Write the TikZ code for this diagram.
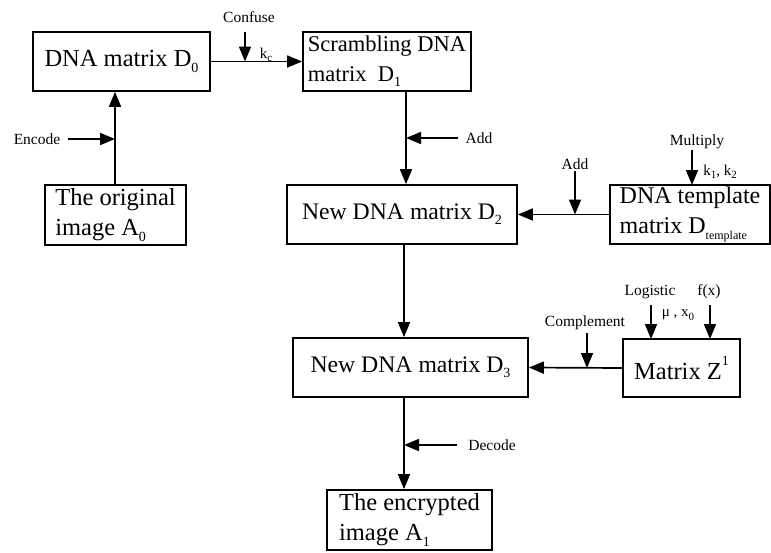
\documentclass[tikz,border=0pt]{standalone}
\usepackage{fontspec}
\setmainfont{Liberation Serif}
\usetikzlibrary{arrows.meta}
\newcommand\sbs[2][14]{\raisebox{-0.22em}{\fontsize{#1}{#1}\selectfont #2}}
\newcommand\sps[2][14]{\raisebox{0.55em}{\fontsize{#1}{#1}\selectfont #2}}
\begin{document}
\begin{tikzpicture}[x=1pt,y=-1pt,
  box/.style={draw, line width=1.7pt, inner xsep=7pt, inner ysep=0pt, align=left,
    font=\fontsize{24.5}{30}\selectfont},
  lbl/.style={inner sep=0pt, font=\fontsize{15.5}{16}\selectfont},
  sm/.style={inner sep=0pt, font=\fontsize{15}{15}\selectfont},
  conn/.style={line width=1.7pt, -{Triangle[length=15pt,width=12pt]}},
]
\useasboundingbox (0,0) rectangle (771,552);

% boxes
\node[box, minimum width=177pt, minimum height=59pt] (d0) at (121.5,61.5) {DNA matrix D\sbs{0}};
\node[box, minimum width=168pt, minimum height=59pt, font=\fontsize{22.5}{30}\selectfont, inner xsep=4pt] (d1) at (387,61.5) {Scrambling DNA\\matrix\ \ D\sbs{1}};
\node[box, minimum width=141pt, minimum height=60pt, inner xsep=4pt] (orig) at (115.5,215) {The original\\image A\sbs{0}};
\node[box, minimum width=230pt, minimum height=59pt, font=\fontsize{23.7}{30}\selectfont] (d2) at (402,214.5) {New DNA matrix D\sbs{2}};
\node[box, minimum width=160pt, minimum height=59pt, font=\fontsize{24}{30}\selectfont, inner xsep=3pt] (tmpl) at (690,214.5) {DNA template\\matrix D\sbs[12]{template}};
\node[box, minimum width=235pt, minimum height=59pt, font=\fontsize{23.7}{30}\selectfont] (d3) at (410.5,367.5) {New DNA matrix D\sbs{3}};
\node[box, minimum width=117pt, minimum height=58pt] (z) at (681.5,368) {Matrix Z\sps{1}};
\node[box, minimum width=165pt, minimum height=60pt, inner xsep=4pt] (enc) at (409.5,520) {The encrypted\\image A\sbs{1}};

% labels
\node[lbl] (lconf) at (249,17) {Confuse};
\node[sm] (lkc) at (266,55) {k\sbs[11]{c}};
\node[lbl] (lenc) at (37,139) {Encode};
\node[lbl] (ladd1) at (479,138) {Add};
\node[lbl] (ladd2) at (575,164) {Add};
\node[lbl] (lmul) at (697,142) {Multiply};
\node[sm] (lk12) at (720,172) {k\sbs[11]{1}, k\sbs[11]{2}};
\node[lbl] (lcomp) at (585,323) {Complement};
\node[lbl] (llog) at (650,292) {Logistic};
\node[lbl] (lfx) at (709,292) {f(x)};
\node[sm] (lmu) at (678,315) {μ , x\sbs[11]{0}};
\node[lbl] (ldec) at (492,445) {Decode};

% coordinates of small arrows
\coordinate (cf1) at (245,32);   \coordinate (cf2) at (245,61.5);
\coordinate (en1) at (68,139);   \coordinate (en2) at (115,139);
\coordinate (ad1) at (458,138);  \coordinate (ad2) at (406,138);
\coordinate (ae1) at (575,171);  \coordinate (ae2) at (575,214.5);
\coordinate (mu1) at (692,150);  \coordinate (mu2) at (692,185);
\coordinate (co1) at (587,333);  \coordinate (co2) at (587,368);
\coordinate (lo1) at (651,305);  \coordinate (lo2) at (651,339);
\coordinate (fx1) at (710,305);  \coordinate (fx2) at (710,339);
\coordinate (de1) at (457,445);  \coordinate (de2) at (404,445);
\coordinate (xa) at (406,0);
\coordinate (xb) at (404,0);

% main connectors
\draw[conn] (d0.east) -- (d1.west);
\draw[conn] (orig.north -| en2) -- (d0.south -| en2);
\draw[conn] (d1.south -| xa) -- (d2.north -| xa);
\draw[conn] (tmpl.west) -- (d2.east);
\draw[conn] (d2.south -| xb) -- (d3.north -| xb);
\draw[conn] (z.west) -- (d3.east);
\draw[conn] (d3.south -| xb) -- (enc.north -| xb);

% small arrows
\draw[conn] (cf1) -- (cf2);
\draw[conn] (en1) -- (en2);
\draw[conn] (ad1) -- (ad2);
\draw[conn] (ae1) -- (ae2);
\draw[conn] (mu1) -- (mu2);
\draw[conn] (co1) -- (co2);
\draw[conn] (lo1) -- (lo2);
\draw[conn] (fx1) -- (fx2);
\draw[conn] (de1) -- (de2);
\end{tikzpicture}
\end{document}
